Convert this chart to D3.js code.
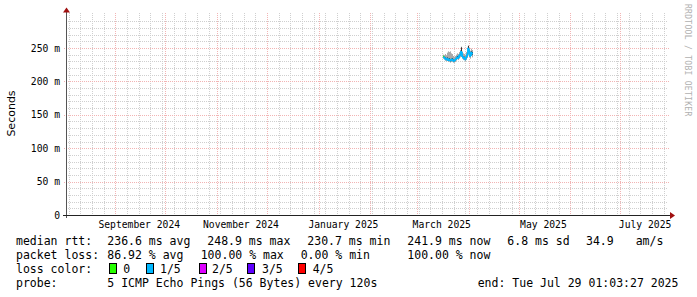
<!DOCTYPE html>
<html>
<head>
<meta charset="utf-8">
<script src="https://cdn.jsdelivr.net/npm/d3@7"></script>
<style>
  body { margin: 0; background: #fff; }
  svg { display: block; }
  text { font-family: "DejaVu Sans Mono", monospace; fill: #000; }
</style>
</head>
<body>
<div id="chart"></div>
<script>
// graph window (rrd end time, 360 days back)
let rangeStart = new Date("2024-08-03T01:03:27Z"),
    rangeEnd = new Date("2025-07-29T01:03:27Z");

// consolidated rrd steps: first step time + step length
let stepStart = new Date("2025-03-16T15:00:00Z");
let stepHours = 14.4;

// median rtt per step (ms)
let median = [237, 236, 234, 233, 234, 232, 233, 231, 232, 233, 231, 230.7, 232, 234, 236,
              235, 238, 240, 244, 238, 236, 235, 233, 236, 240, 248.9, 244, 238, 243, 241.9];
// outer smoke (ms): highest and lowest ping per step
let smokeHi = [240, 239, 241, 239, 243, 245, 244, 245, 242, 241, 238, 237, 238, 240, 242,
               241, 244, 247, 252, 245, 242, 241, 240, 244, 247, 254, 250, 246, 249, 247];
let smokeLo = [234, 233, 231, 230, 231, 229, 230, 228, 229, 230, 228, 228, 229, 231, 233,
               232, 234, 236, 239, 234, 232, 232, 230, 232, 235, 240, 238, 234, 238, 236];
// inner smoke (ms): 2nd highest and 2nd lowest ping
let innerHi = [238, 237, 236, 235, 236, 234, 235, 233, 234, 235, 233, 232, 234, 236, 238,
               237, 240, 242, 251, 240, 238, 237, 235, 238, 242, 253, 246, 240, 245, 244];
let innerLo = [236, 235, 233, 232, 233, 231, 232, 230, 231, 232, 230, 230, 231, 233, 235,
               234, 237, 239, 242, 237, 235, 234, 232, 235, 239, 246, 242, 237, 241, 240];
// lost pings per step (of 5)
let lossCount = [0, 1, 1, 1, 1, 1, 1, 1, 1, 1, 1, 1, 1, 1, 1,
                 1, 1, 1, 1, 1, 1, 1, 1, 1, 1, 1, 1, 1, 1, 1];

// y axis ticks (seconds) and labels
let yTicks = [0, 0.05, 0.10, 0.15, 0.20, 0.25];
let yTickLabels = ["0", "50 m", "100 m", "150 m", "200 m", "250 m"];

// month labels
let monthLabels = ["September 2024", "November 2024", "January 2025", "March 2025", "May 2025", "July 2025"];
let monthLabelDates = ["2024-09-01", "2024-11-01", "2025-01-01", "2025-03-01", "2025-05-01", "2025-07-01"];

// loss colours
let lossNames = ["0", "1/5", "2/5", "3/5", "4/5"];
let lossColors = ["#26ff00", "#00b8ff", "#dd00ff", "#5e00ff", "#ff0000"];

// legend lines
let rttStats = ["236.6 ms avg", "248.9 ms max", "230.7 ms min", "241.9 ms now", "6.8 ms sd", "34.9", "am/s"];
let lossStats = ["86.92 % avg", "100.00 % max", "0.00 % min", "100.00 % now"];
let probeText = "5 ICMP Echo Pings (56 Bytes) every 120s";
let endText = "end: Tue Jul 29 01:03:27 2025";

let width = 697, height = 297;
let plotLeft = 67, plotRight = 667, plotBottom = 215, plotTop = 14.6;

let svg = d3.select('#chart')
    .append('svg')
    .attr('width', width)
    .attr('height', height);

let x = d3.scaleUtc()
    .domain([rangeStart, rangeEnd])
    .range([plotLeft, plotRight]);

let y = d3.scaleLinear()
    .domain([0, 0.3])
    .range([plotBottom, plotTop]);

// grid
let grid = svg.append('g').attr('shape-rendering', 'crispEdges');

let minorY = d3.range(1, 30).map(d => d / 100).filter(v => Math.round(v * 100) % 5 !== 0);
grid.selectAll('.hminor')
    .data(minorY)
    .enter()
    .append('line')
    .attr('x1', plotLeft - 1).attr('x2', plotRight + 1)
    .attr('y1', d => Math.round(y(d)) + 0.5).attr('y2', d => Math.round(y(d)) + 0.5)
    .attr('stroke', '#cfcfcf').attr('stroke-dasharray', '1,1');

grid.selectAll('.vminor')
    .data(d3.utcSunday.range(rangeStart, rangeEnd))
    .enter()
    .append('line')
    .attr('x1', d => Math.round(x(d)) + 0.5).attr('x2', d => Math.round(x(d)) + 0.5)
    .attr('y1', 13).attr('y2', plotBottom)
    .attr('stroke', '#cfcfcf').attr('stroke-dasharray', '1,1');

grid.selectAll('.hmajor')
    .data(yTicks.slice(1))
    .enter()
    .append('line')
    .attr('x1', plotLeft - 3).attr('x2', plotRight + 2)
    .attr('y1', d => Math.round(y(d)) + 0.5).attr('y2', d => Math.round(y(d)) + 0.5)
    .attr('stroke', '#f2b4b4').attr('stroke-dasharray', '1,1');

grid.selectAll('.vmajor')
    .data(d3.utcMonth.range(rangeStart, rangeEnd))
    .enter()
    .append('line')
    .attr('x1', d => Math.round(x(d)) + 0.5).attr('x2', d => Math.round(x(d)) + 0.5)
    .attr('y1', 13).attr('y2', plotBottom + 2)
    .attr('stroke', '#f2b4b4').attr('stroke-dasharray', '1,1');

// smoke + median
let steps = median.map((m, i) => ({
    t0: new Date(stepStart.getTime() + i * stepHours * 3600e3),
    t1: new Date(stepStart.getTime() + (i + 1) * stepHours * 3600e3),
    med: m / 1000,
    hi: smokeHi[i] / 1000,
    lo: smokeLo[i] / 1000,
    ihi: innerHi[i] / 1000,
    ilo: innerLo[i] / 1000,
    loss: lossCount[i]
}));

let smoke = svg.append('g');
smoke.selectAll('.outer')
    .data(steps)
    .enter()
    .append('rect')
    .attr('x', d => x(d.t0))
    .attr('width', d => x(d.t1) - x(d.t0))
    .attr('y', d => y(d.hi))
    .attr('height', d => y(d.lo) - y(d.hi))
    .attr('fill', '#a8a8a8');
smoke.selectAll('.inner')
    .data(steps)
    .enter()
    .append('rect')
    .attr('x', d => x(d.t0))
    .attr('width', d => x(d.t1) - x(d.t0))
    .attr('y', d => y(d.ihi))
    .attr('height', d => y(d.ilo) - y(d.ihi))
    .attr('fill', '#303030');

svg.append('g')
    .selectAll('path')
    .data(steps)
    .enter()
    .append('path')
    .attr('d', (d, i) => {
        let prev = i > 0 ? steps[i - 1].med : d.med;
        return `M${x(d.t0)},${y(prev)}V${y(d.med)}H${x(d.t1)}`;
    })
    .attr('fill', 'none')
    .attr('stroke', d => lossColors[d.loss])
    .attr('stroke-width', 1.8);

// axes
let axes = svg.append('g').attr('shape-rendering', 'crispEdges');
axes.append('line')
    .attr('x1', plotLeft - 0.5).attr('x2', plotLeft - 0.5)
    .attr('y1', plotBottom + 3).attr('y2', 10)
    .attr('stroke', '#555');
axes.append('line')
    .attr('x1', plotLeft - 4).attr('x2', plotRight + 5)
    .attr('y1', plotBottom + 0.5).attr('y2', plotBottom + 0.5)
    .attr('stroke', '#222');
svg.append('path')
    .attr('d', `M${plotLeft - 4},12.5L${plotLeft - 0.5},7.5L${plotLeft + 3},12.5Z`)
    .attr('fill', '#a01010');
svg.append('path')
    .attr('d', `M${plotRight + 3},${plotBottom - 3}L${plotRight + 8},${plotBottom + 0.5}L${plotRight + 3},${plotBottom + 4}Z`)
    .attr('fill', '#a01010');

// y tick labels
svg.append('g')
    .selectAll('text')
    .data(yTicks)
    .enter()
    .append('text')
    .attr('x', 60)
    .attr('y', d => y(d) + 3.6)
    .attr('text-anchor', 'end')
    .style('font-size', '9.7px')
    .text((d, i) => yTickLabels[i]);

// x month labels, centred half a month after the tick
svg.append('g')
    .selectAll('text')
    .data(monthLabelDates)
    .enter()
    .append('text')
    .attr('x', d => {
        let m = new Date(d + "T00:00:00Z");
        let next = d3.utcMonth.offset(m, 1);
        return x(new Date((m.getTime() + next.getTime()) / 2)) - 1;
    })
    .attr('y', 227.5)
    .attr('text-anchor', 'middle')
    .style('font-size', '9.7px')
    .text((d, i) => monthLabels[i]);

// y title
svg.append('text')
    .attr('transform', 'translate(14.5,113.5) rotate(-90)')
    .attr('text-anchor', 'middle')
    .style('font-family', '"DejaVu Sans", sans-serif')
    .style('font-size', '11px')
    .text('Seconds');

// watermark
svg.append('text')
    .attr('transform', 'translate(685,4) rotate(90)')
    .style('font-size', '8px')
    .style('letter-spacing', '0.3px')
    .style('fill', '#b0b0b0')
    .text('RRDTOOL / TOBI OETIKER');

// legend
let legend = svg.append('g').style('font-size', '11.5px').style('white-space', 'pre');
let rttX = [107.3, 207.3, 307.3, 407.3, 507.3, 586, 635.7];
let lossX = [107.3, 200.7, 300.7, 407.3];

legend.append('text').attr('x', 16).attr('y', 245.3).text('median rtt:');
legend.selectAll('.rtt')
    .data(rttStats)
    .enter()
    .append('text')
    .attr('x', (d, i) => rttX[i])
    .attr('y', 245.3)
    .text(d => d);

legend.append('text').attr('x', 16).attr('y', 259.3).text('packet loss:');
legend.selectAll('.loss')
    .data(lossStats)
    .enter()
    .append('text')
    .attr('x', (d, i) => lossX[i])
    .attr('y', 259.3)
    .text(d => d);

legend.append('text').attr('x', 16).attr('y', 273).text('loss color:');
let boxX = [108.7, 146, 198.7, 247.3, 298.3];
let boxTextX = [123.3, 160, 212, 262, 312.7];
legend.selectAll('.box')
    .data(lossColors)
    .enter()
    .append('rect')
    .attr('x', (d, i) => boxX[i] + 0.5)
    .attr('y', 263.5)
    .attr('width', 7)
    .attr('height', 10)
    .attr('fill', d => d)
    .attr('stroke', '#000')
    .attr('shape-rendering', 'crispEdges');
legend.selectAll('.boxtext')
    .data(lossNames)
    .enter()
    .append('text')
    .attr('x', (d, i) => boxTextX[i])
    .attr('y', 273)
    .text(d => d);

legend.append('text').attr('x', 16).attr('y', 287).text('probe:');
legend.append('text').attr('x', 107.3).attr('y', 287).text(probeText);
legend.append('text').attr('x', 477.7).attr('y', 287).text(endText);
</script>
</body>
</html>
